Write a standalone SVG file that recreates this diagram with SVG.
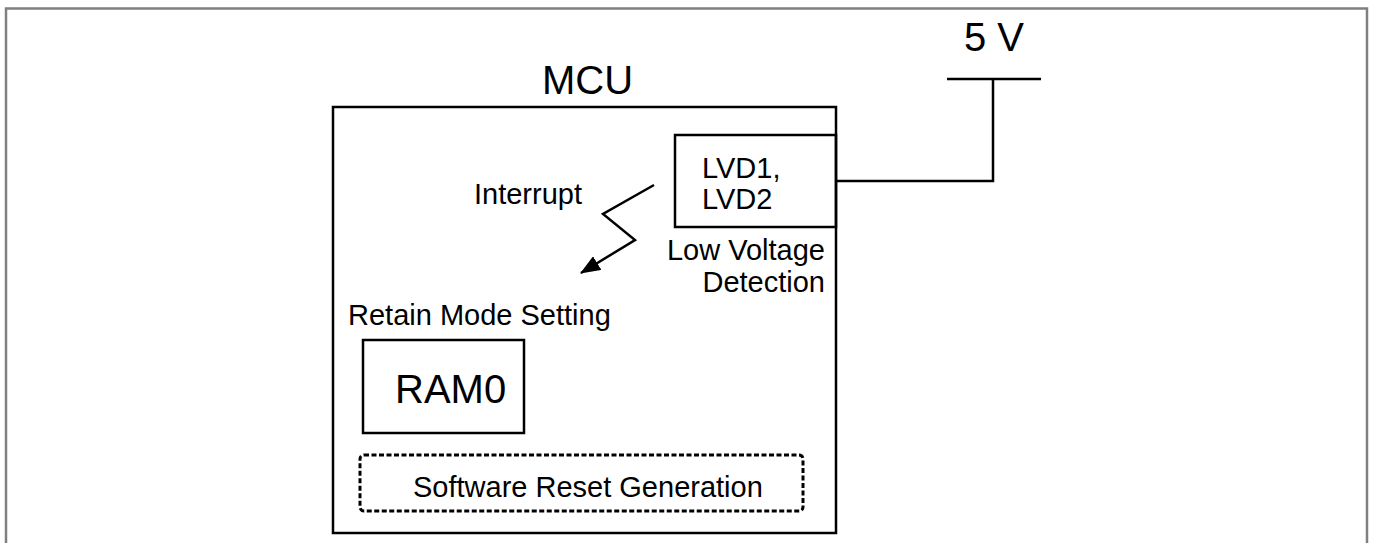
<svg xmlns="http://www.w3.org/2000/svg" width="1373" height="543" viewBox="0 0 1373 543">
<style>
.box{fill:none;stroke:#000;stroke-width:2.5}
.ln{fill:none;stroke:#000;stroke-width:2.5}
.t{font-family:"Liberation Sans",Arial,sans-serif;fill:#000}
.s{font-size:29px}
.b{font-size:40px}
</style>
<defs>
<marker id="ah" viewBox="0 0 20 16" refX="19" refY="8" markerWidth="20" markerHeight="16" markerUnits="userSpaceOnUse" orient="auto">
<path d="M0,0 L20,8 L0,16 Z" fill="#000"/>
</marker>
</defs>
<rect width="1373" height="543" fill="#fff"/>
<path d="M6,543 V8.5 H1367 V543" fill="none" stroke="#808080" stroke-width="2.5"/>
<g id="mcu">
<rect class="box" x="333" y="107" width="503" height="426"/>
<text class="t b" x="542" y="94">MCU</text>
</g>
<g id="lvd">
<rect class="box" x="675" y="135" width="161" height="92"/>
<text class="t s" x="702" y="178">LVD1,</text>
<text class="t s" x="702" y="209">LVD2</text>
<text class="t s" x="825" y="260" text-anchor="end">Low Voltage</text>
<text class="t s" x="825" y="292" text-anchor="end">Detection</text>
</g>
<g id="supply">
<text class="t b" x="964" y="51">5 V</text>
</g>
<g id="interrupt">
<text class="t s" x="474" y="204">Interrupt</text>
</g>
<g id="retain">
<text class="t s" x="348" y="325">Retain Mode Setting</text>
</g>
<g id="ram0">
<rect class="box" x="363" y="340" width="161" height="93"/>
<text class="t b" x="395" y="403">RAM0</text>
</g>
<g id="swreset">
<rect x="360" y="455" width="443" height="56" rx="4" fill="none" stroke="#000" stroke-width="3" stroke-dasharray="5 2.5"/>
<text class="t s" x="413" y="497">Software Reset Generation</text>
</g>
<g id="connectors">
<path class="ln" d="M836,181 H993 V79"/>
<path class="ln" d="M947,79 H1041"/>
<path class="ln" d="M654,185 L603,214 L635,240 L581,273" marker-end="url(#ah)"/>
</g>
</svg>
